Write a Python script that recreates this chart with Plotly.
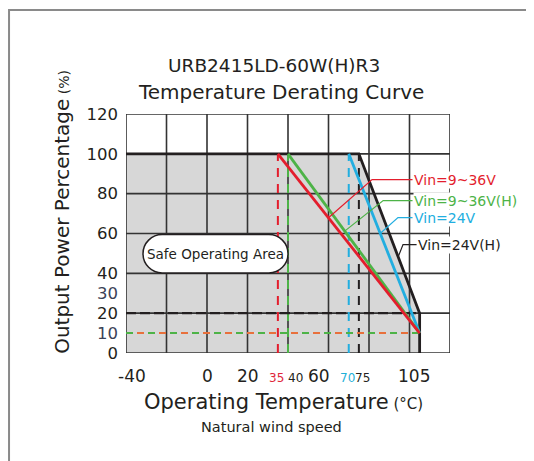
import plotly.graph_objects as go

# ---------------- data ----------------
x_ticks = [-40, 0, 20, 35, 40, 60, 70, 75, 105]
x_tick_labels = ["-40", "0", "20", "35", "40", "60", "70", "75", "105"]
y_ticks = [0, 10, 20, 30, 40, 60, 80, 100, 120]
y_tick_labels = ["0", "10", "20", "30", "40", "60", "80", "100", "120"]

x_grid = [-40, -20, 0, 20, 40, 60, 80, 100, 120]
y_grid = [0, 20, 40, 60, 80, 100, 120]

area_x = [-40, -40, 75, 105, 105]
area_y = [0, 100, 100, 20, 0]

red_x, red_y = [35, 105], [100, 10]          # Vin=9~36V
green_x, green_y = [40, 105], [100, 10]      # Vin=9~36V(H)
cyan_x, cyan_y = [70, 105], [100, 10]        # Vin=24V
black_x, black_y = [-40, 75, 105, 105], [100, 100, 20, 0]  # Vin=24V(H)

v_dash_x = [35, 40, 70, 75]
v_dash_top = 100
h_dash_black = 20
h_dash_color = 10
h_dash_range = [-40, 105]

series_names = ["Vin=9~36V", "Vin=9~36V(H)", "Vin=24V", "Vin=24V(H)"]
leader_x = [[101.5, 81.5, 60], [101.5, 87, 68], [101.5, 94.3, 85.5], [103.5, 96.8, 94.5]]
leader_y = [[87.1, 87.1, 67.9], [76.5, 76.5, 61.2], [68, 68, 60], [54.4, 54.4, 48.5]]

# ---------------- styles ----------------
RED, GREEN, CYAN, BLACK = "#e31e2d", "#4db347", "#22aee0", "#231f20"
SLATE = "#3b4257"
colors = [RED, GREEN, CYAN, BLACK]
FONT = "DejaVu Sans"

x_label_size = [17, 17, 17, 12, 12, 17, 12, 12, 17]
x_label_color = [BLACK, BLACK, BLACK, "#e0263a", BLACK, BLACK, "#1fb0d8", BLACK, BLACK]
x_label_shift = [6, 0, 0, -1, 7, -10, -1, 4, -6]
y_label_color = [BLACK, SLATE, BLACK, SLATE, BLACK, BLACK, BLACK, BLACK, BLACK]
y_tick_text = [f'<span style="color:{c}">{t}</span>' if c != BLACK else t
               for t, c in zip(y_tick_labels, y_label_color)]

fig = go.Figure()

# gray safe area
fig.add_trace(go.Scatter(x=area_x, y=area_y, fill="toself", fillcolor="#d7d7d7",
                         line=dict(width=0), mode="lines", hoverinfo="skip"))

# grid lines
gx, gy = [], []
for xv in x_grid:
    gx += [xv, xv, None]
    gy += [y_grid[0], y_grid[-1], None]
for yv in y_grid:
    gx += [x_grid[0], x_grid[-1], None]
    gy += [yv, yv, None]
fig.add_trace(go.Scatter(x=gx, y=gy, mode="lines", line=dict(color="#333333", width=1.6),
                         hoverinfo="skip"))

# dashed reference lines
for xv, c in zip(v_dash_x, [RED, GREEN, CYAN, BLACK]):
    fig.add_trace(go.Scatter(x=[xv, xv], y=[0, v_dash_top], mode="lines",
                             line=dict(color=c, width=2, dash="9px,7px"), hoverinfo="skip"))
fig.add_trace(go.Scatter(x=h_dash_range, y=[h_dash_black] * 2, mode="lines",
                         line=dict(color=BLACK, width=2.2, dash="10px,4px"), hoverinfo="skip"))
fig.add_trace(go.Scatter(x=h_dash_range, y=[h_dash_color] * 2, mode="lines",
                         line=dict(color="#e8703c", width=2, dash="7px,4px"), hoverinfo="skip"))
fig.add_trace(go.Scatter(x=h_dash_range, y=[h_dash_color] * 2, mode="lines",
                         line=dict(color=GREEN, width=2, dash="7px,15px"), hoverinfo="skip"))

# curves
for xs, ys, c in [(black_x, black_y, BLACK), (cyan_x, cyan_y, CYAN),
                  (green_x, green_y, GREEN), (red_x, red_y, RED)]:
    fig.add_trace(go.Scatter(x=xs, y=ys, mode="lines", line=dict(color=c, width=2.8),
                             hoverinfo="skip"))

# leader lines
for lx, ly, c in zip(leader_x, leader_y, colors):
    fig.add_trace(go.Scatter(x=lx, y=ly, mode="lines", line=dict(color=c, width=1.2),
                             hoverinfo="skip"))

annotations = []
for name, lx, ly, c in zip(series_names, leader_x, leader_y, colors):
    annotations.append(dict(x=lx[0], y=ly[0], text=name, showarrow=False, xanchor="left",
                            yanchor="middle", font=dict(family=FONT, size=14, color=c),
                            bgcolor="white", borderpad=0))

# x tick labels
for xv, t, s, c, sh in zip(x_ticks, x_tick_labels, x_label_size, x_label_color, x_label_shift):
    annotations.append(dict(x=xv, xref="x", y=0, yref="paper", text=t, showarrow=False,
                            xanchor="center", yanchor="middle", xshift=sh,
                            yshift=-23 if s > 13 else -25,
                            font=dict(family=FONT, size=s, color=c)))

# safe operating area label box
x0, x1, y0, y1 = -31.6, 40.0, 40.2, 59.5
rx, ry = 9.46, (y1 - y0) / 2
yc = (y0 + y1) / 2
k = 0.5523
path = (f"M {x0+rx},{y0} L {x1-rx},{y0} "
        f"C {x1-rx+k*rx},{y0} {x1},{yc-k*ry} {x1},{yc} "
        f"C {x1},{yc+k*ry} {x1-rx+k*rx},{y1} {x1-rx},{y1} "
        f"L {x0+rx},{y1} "
        f"C {x0+rx-k*rx},{y1} {x0},{yc+k*ry} {x0},{yc} "
        f"C {x0},{yc-k*ry} {x0+rx-k*rx},{y0} {x0+rx},{y0} Z")
shapes = [dict(type="path", path=path, xref="x", yref="y", fillcolor="white",
               line=dict(color=BLACK, width=1.5), layer="above"),
          dict(type="rect", xref="paper", yref="paper", x0=-0.361, x1=3, y0=-3, y1=1.435,
               line=dict(color="#8a8a8a", width=2), fillcolor="rgba(0,0,0,0)")]
annotations.append(dict(x=(x0 + x1) / 2, y=yc, text="Safe Operating Area", showarrow=False,
                        xanchor="center", yanchor="middle",
                        font=dict(family=FONT, size=13.5, color=BLACK)))

# titles
annotations += [
    dict(xref="paper", yref="paper", x=0.457, y=1.205, text="URB2415LD-60W(H)R3",
         showarrow=False, xanchor="center", yanchor="middle",
         font=dict(family=FONT, size=18.5, color=BLACK)),
    dict(xref="paper", yref="paper", x=0.478, y=1.092, text="Temperature Derating Curve",
         showarrow=False, xanchor="center", yanchor="middle",
         font=dict(family=FONT, size=20, color=BLACK)),
    dict(xref="paper", yref="paper", x=-0.198, y=0.59, textangle=-90,
         text='Output Power Percentage<span style="font-size:14px"> (%)</span>',
         showarrow=False, xanchor="center", yanchor="middle",
         font=dict(family=FONT, size=20, color=BLACK)),
    dict(xref="paper", yref="paper", x=0.485, y=-0.205,
         text='Operating Temperature<span style="font-size:15px"> (°C)</span>',
         showarrow=False, xanchor="center", yanchor="middle",
         font=dict(family=FONT, size=21, color=BLACK)),
    dict(xref="paper", yref="paper", x=0.448, y=-0.31, text="Natural wind speed",
         showarrow=False, xanchor="center", yanchor="middle",
         font=dict(family=FONT, size=14.5, color=BLACK)),
]

fig.update_layout(
    width=534, height=461,
    margin=dict(l=118, r=92, t=106, b=116, autoexpand=False),
    paper_bgcolor="white", plot_bgcolor="white",
    showlegend=False,
    shapes=shapes, annotations=annotations,
    xaxis=dict(range=[-40, 120], showticklabels=False,
               showgrid=False, zeroline=False, showline=False, ticks="",
               automargin=False, fixedrange=True),
    yaxis=dict(range=[0, 120], tickmode="array", tickvals=y_ticks, ticktext=y_tick_text,
               showgrid=False, zeroline=False, showline=False, ticks="", automargin=False,
               tickfont=dict(family=FONT, size=16.5, color=BLACK), ticklabelstandoff=7,
               fixedrange=True),
)

fig.write_html("out.html")
